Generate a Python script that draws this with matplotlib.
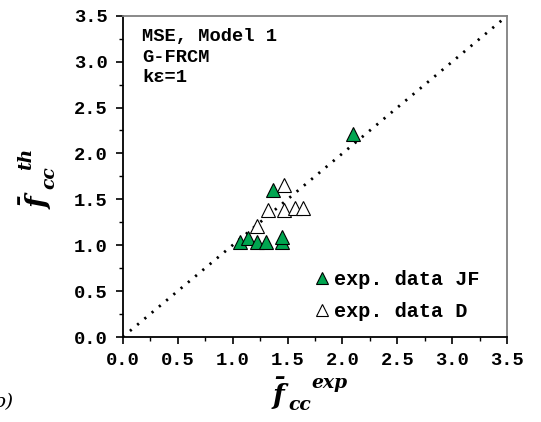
import matplotlib
matplotlib.use("Agg")
import matplotlib.pyplot as plt
from matplotlib.ticker import MultipleLocator
from matplotlib.transforms import IdentityTransform

# Experimental vs. theoretical normalised confined strength
jf_exp = [2.10, 1.37, 1.07, 1.14, 1.22, 1.30, 1.45, 1.45]
jf_th = [2.21, 1.60, 1.04, 1.08, 1.04, 1.04, 1.04, 1.09]
d_exp = [1.47, 1.32, 1.47, 1.57, 1.64, 1.22]
d_th = [1.66, 1.38, 1.38, 1.41, 1.41, 1.21]

ticks = [0.0, 0.5, 1.0, 1.5, 2.0, 2.5, 3.0, 3.5]
tick_labels = ["0.0", "0.5", "1.0", "1.5", "2.0", "2.5", "3.0", "3.5"]

plt.rcParams["mathtext.fontset"] = "dejavuserif"
mono = "Liberation Mono"
serif = "DejaVu Serif"

W, H = 541, 422
fig = plt.figure(figsize=(W / 100, H / 100), dpi=100)
ax = fig.add_axes([0.2268, 0.2014, 0.7109, 0.7614])

ax.plot([0, 3.5], [0, 3.5], color="black", linestyle=(0, (0.8, 2.6)),
        linewidth=2.0, zorder=1)

ax.plot(jf_exp, jf_th, linestyle="none", marker="^", markersize=9.5,
        markerfacecolor="#00a550", markeredgecolor="black", markeredgewidth=0.8,
        zorder=3, label="exp. data JF")
ax.plot(d_exp, d_th, linestyle="none", marker="^", markersize=9.5,
        markerfacecolor="white", markeredgecolor="black", markeredgewidth=0.8,
        zorder=2, label="exp. data D")

ax.set_xlim(0, 3.5)
ax.set_ylim(0, 3.5)
ax.set_xticks(ticks)
ax.set_yticks(ticks)
ax.set_xticklabels(tick_labels, fontfamily=mono, fontweight="bold", fontsize=13.5)
ax.set_yticklabels(tick_labels, fontfamily=mono, fontweight="bold", fontsize=13.5)
ax.xaxis.set_minor_locator(MultipleLocator(0.25))
ax.yaxis.set_minor_locator(MultipleLocator(0.25))
ax.tick_params(which="major", direction="out", length=5, width=1.2, pad=6)
ax.tick_params(which="minor", direction="out", length=3, width=1.0)
ax.tick_params(top=False, right=False, which="both")

for side in ("left", "bottom"):
    ax.spines[side].set_color("black")
    ax.spines[side].set_linewidth(1.3)
for side in ("right", "top"):
    ax.spines[side].set_color("#808080")
    ax.spines[side].set_linewidth(1.3)

ax.text(0.05, 0.962, "MSE, Model 1\nG-FRCM\nk\u03b5=1", transform=ax.transAxes,
        ha="left", va="top", fontfamily=mono, fontweight="bold", fontsize=13.5,
        linespacing=1.29)

ax.legend(loc="lower left", frameon=False, handlelength=0.55,
          handletextpad=0.35, borderaxespad=0.0, borderpad=0.0,
          labelspacing=0.62, bbox_to_anchor=(0.503, 0.05), markerscale=0.95,
          prop={"family": mono, "weight": "bold", "size": 14.5})


def px_text(x, y, s, size, rot=0, math=False):
    """Place a text piece at pixel (x, y) measured from the top-left corner."""
    kw = dict(transform=IdentityTransform(), ha="left", va="baseline",
              rotation=rot, rotation_mode="anchor", fontsize=size)
    if not math:
        kw.update(fontfamily=serif, fontweight="bold", fontstyle="italic")
    fig.text(x, H - y, s, **kw)


fbar = r"$\mathbfit{\bar{f}}$"

# x-axis label: f-bar with subscript cc and superscript exp
px_text(271, 405, fbar, 19.5, math=True)
px_text(288, 410, "cc", 13.5)
px_text(311, 388, "exp", 13.5)

# y-axis label: f-bar with subscript cc and superscript th
px_text(47, 209, fbar, 19.5, rot=90, math=True)
px_text(54, 189, "cc", 13.5, rot=90)
px_text(31, 170, "th", 13.5, rot=90)

fig.text(-0.012, 0.035, "b)", fontfamily=serif, fontstyle="italic",
         fontsize=14)

fig.savefig("out.png", dpi=100)
